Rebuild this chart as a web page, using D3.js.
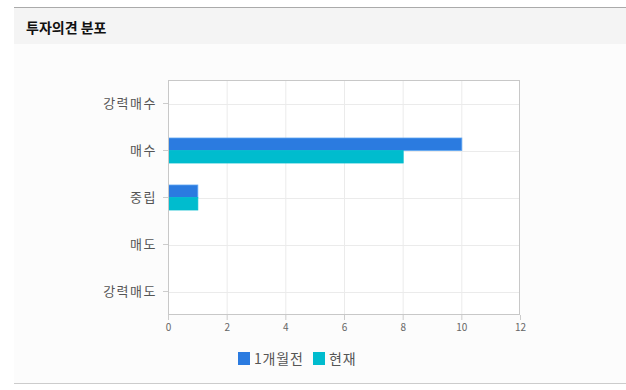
<!DOCTYPE html>
<html>
<head>
<meta charset="utf-8">
<script src="https://cdn.jsdelivr.net/npm/d3@7"></script>
<style>
    body { margin: 0; background: #fff; }
    text { font-family: "Noto Sans CJK KR", "Noto Sans", sans-serif; }
</style>
</head>
<body>
<svg id="chart" width="626" height="390"></svg>
<script>
// Data
const categories = ["강력매수", "매수", "중립", "매도", "강력매도"];
const seriesNames = ["1개월전", "현재"];
const monthAgo = [0, 10, 1, 0, 0];
const current = [0, 8, 1, 0, 0];
const xTicks = [0, 2, 4, 6, 8, 10, 12];
const colors = ["#2b7be0", "#00bcce"];
const strokes = ["#5ea6f2", "#00bcce"];

const svg = d3.select("#chart");

// Panel frame
svg.append("rect").attr("x", 14).attr("y", 8).attr("width", 612).attr("height", 375).attr("fill", "#fcfcfc");
svg.append("rect").attr("x", 14).attr("y", 8).attr("width", 612).attr("height", 36).attr("fill", "#f4f4f4");
svg.append("line").attr("x1", 14).attr("x2", 626).attr("y1", 7.5).attr("y2", 7.5)
    .attr("stroke", "#aaa").attr("stroke-width", 1);
svg.append("line").attr("x1", 14).attr("x2", 626).attr("y1", 383.5).attr("y2", 383.5)
    .attr("stroke", "#ccc").attr("stroke-width", 1);
svg.append("text").attr("x", 26).attr("y", 32.5)
    .attr("font-size", "14px").attr("font-weight", "bold").attr("fill", "#111")
    .text("투자의견 분포");

// Plot area
const m = {left: 168, right: 520, top: 80, bottom: 315};
const x = d3.scaleLinear().domain([0, 12]).range([m.left, m.right]);
const y = d3.scaleBand().domain(categories).range([m.top, m.bottom]);
const inner = d3.scaleBand().domain(seriesNames).range([y.bandwidth() / 2 - 12.5, y.bandwidth() / 2 + 12.5]);

svg.append("rect").attr("x", m.left).attr("y", m.top)
    .attr("width", m.right - m.left).attr("height", m.bottom - m.top)
    .attr("fill", "#fff");

// grid
svg.append("g").selectAll("line").data(xTicks.slice(1, -1)).join("line")
    .attr("x1", d => x(d) + 0.5).attr("x2", d => x(d) + 0.5)
    .attr("y1", m.top).attr("y2", m.bottom)
    .attr("stroke", "#ebebeb");
svg.append("g").selectAll("line").data(categories).join("line")
    .attr("x1", m.left).attr("x2", m.right)
    .attr("y1", d => Math.round(y(d) + y.bandwidth() / 2) + 0.5)
    .attr("y2", d => Math.round(y(d) + y.bandwidth() / 2) + 0.5)
    .attr("stroke", "#ebebeb");

// bars
const rows = categories.map((c, i) => ({cat: c, vals: [monthAgo[i], current[i]]}));
svg.append("g").selectAll("g").data(rows).join("g")
    .attr("transform", d => `translate(0,${y(d.cat)})`)
    .selectAll("rect")
    .data(d => d.vals.map((v, j) => ({v, j})).filter(e => e.v > 0))
    .join("rect")
    .attr("x", x(0) + 0.5)
    .attr("y", d => inner(seriesNames[d.j]))
    .attr("width", d => x(d.v) - x(0))
    .attr("height", inner.bandwidth())
    .attr("fill", d => colors[d.j])
    .attr("stroke", d => strokes[d.j])
    .attr("stroke-width", 0.8);

// axes
const xAxis = d3.axisBottom(x).tickValues(xTicks).tickSize(5).tickPadding(4);
const gx = svg.append("g").attr("transform", `translate(0,${m.bottom})`).call(xAxis);
gx.select(".domain").remove();
gx.selectAll("line").attr("stroke", "#ccc");
gx.selectAll("text").attr("font-size", "10px").attr("fill", "#666")
    .attr("font-family", "\"Liberation Sans\", Arial, sans-serif");

const yAxis = d3.axisLeft(y).tickSize(5).tickPadding(6);
const gy = svg.append("g").attr("transform", `translate(${m.left},0)`).call(yAxis);
gy.select(".domain").remove();
gy.selectAll("line").attr("stroke", "#ccc");
gy.selectAll("text").attr("font-size", "13px").attr("fill", "#555")
    .style("letter-spacing", "1.5px")
    .attr("font-family", "\"Noto Sans CJK KR\", sans-serif");

svg.append("rect").attr("x", m.left + 0.5).attr("y", m.top + 0.5)
    .attr("width", m.right - m.left - 1).attr("height", m.bottom - m.top - 1)
    .attr("fill", "none").attr("stroke", "#c8c8c8");

// legend
const legendPos = [238, 313];
const lg = svg.append("g").selectAll("g").data(seriesNames).join("g")
    .attr("transform", (d, i) => `translate(${legendPos[i]},352)`);
lg.append("rect").attr("width", 12).attr("height", 13).attr("fill", (d, i) => colors[i]);
lg.append("text").attr("x", 16).attr("y", 12)
    .attr("font-size", "14px").attr("fill", "#555")
    .style("letter-spacing", "0.8px")
    .text(d => d);
</script>
</body>
</html>
